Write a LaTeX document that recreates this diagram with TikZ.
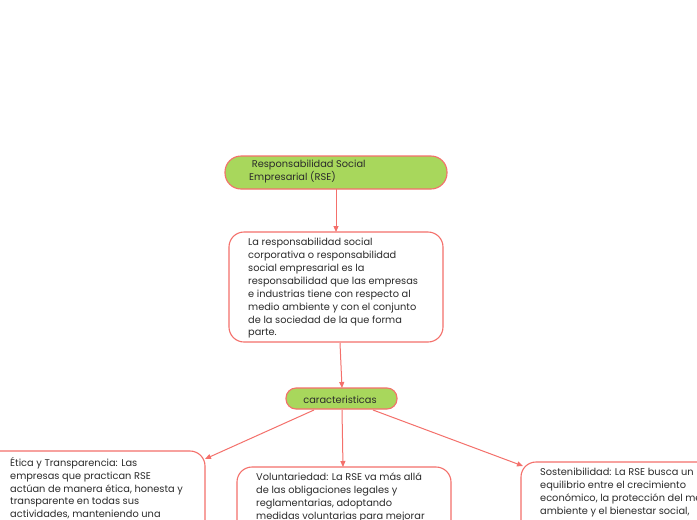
\documentclass[tikz,border=0pt]{standalone}
\usepackage{fontspec}
\setmainfont{Poppins}
\usetikzlibrary{arrows.meta}
\definecolor{rseRed}{HTML}{F4706B}
\definecolor{rseGreen}{HTML}{A8D75C}
\definecolor{rseText}{HTML}{2B2B2B}
\tikzset{
  boxline/.style={draw=rseRed, line width=1.1pt},
  greenbox/.style={boxline, fill=rseGreen, rectangle, rounded corners=16pt, inner sep=0pt},
  whitebox/.style={boxline, fill=white, rectangle, rounded corners=15pt, inner sep=0pt},
  txt/.style={anchor=north west, inner sep=0pt, align=left, text=rseText,
    font=\fontsize{9.8}{12.9}\selectfont},
  conn/.style={draw=rseRed, line width=1pt, -{Triangle[length=6pt,width=5pt]}},
}
\begin{document}
\begin{tikzpicture}[x=1pt,y=-1pt]
\useasboundingbox (0,0) rectangle (697,520);
\clip (0,0) rectangle (697,520);
\fill[white] (0,0) rectangle (697,520);
% boxes
\node[greenbox, minimum width=222pt, minimum height=33pt, rounded corners=16pt] (top) at (336,172.5) {};
\node[whitebox, minimum width=214pt, minimum height=110pt] (desc) at (336,287) {};
\node[greenbox, minimum width=111pt, minimum height=21pt, rounded corners=10pt] (car) at (341.5,398.5) {};
\node[whitebox, minimum width=235pt, minimum height=160pt] (etica) at (87.5,531) {};
\node[whitebox, minimum width=214pt, minimum height=150pt] (volun) at (344,542) {};
\node[whitebox, minimum width=230pt, minimum height=160pt] (sost) at (636,542) {};
% texts
\node[txt] (ttop) at (249,160) {\ Responsabilidad Social\\Empresarial (RSE)};
\node[txt] (tdesc) at (248,238) {La responsabilidad social\\corporativa o responsabilidad\\social empresarial es la\\responsabilidad que las empresas\\e industrias tiene con respecto al\\medio ambiente y con el conjunto\\de la sociedad de la que forma\\parte.};
\node[anchor=center, inner sep=0pt, text=rseText, font=\fontsize{9.8}{12.9}\selectfont] (tcar) at (340,399.5) {caracteristicas};
\node[txt] (tetica) at (10,457) {Ética y Transparencia: Las\\empresas que practican RSE\\actúan de manera ética, honesta y\\transparente en todas sus\\actividades, manteniendo una};
\node[txt] (tvolun) at (256,473) {Voluntariedad: La RSE va más allá\\de las obligaciones legales y\\reglamentarias, adoptando\\medidas voluntarias para mejorar};
\node[txt] (tsost) at (540,468) {Sostenibilidad: La RSE busca un\\equilibrio entre el crecimiento\\económico, la protección del medio\\ambiente y el bienestar social,};
% connector end points
\coordinate (a1) at (336,189);
\coordinate (a2) at (336,232);
\coordinate (b1) at (340,343);
\coordinate (b2) at (342,388);
\coordinate (c1) at (314,410);
\coordinate (c2) at (205,459);
\coordinate (d1) at (342,410);
\coordinate (d2) at (343,467);
\coordinate (e1) at (373,410);
\coordinate (e2) at (523,466);
\draw[conn] (a1) -- (a2);
\draw[conn] (b1) -- (b2);
\draw[conn] (c1) -- (c2);
\draw[conn] (d1) -- (d2);
\draw[conn] (e1) -- (e2);
\end{tikzpicture}
\end{document}
